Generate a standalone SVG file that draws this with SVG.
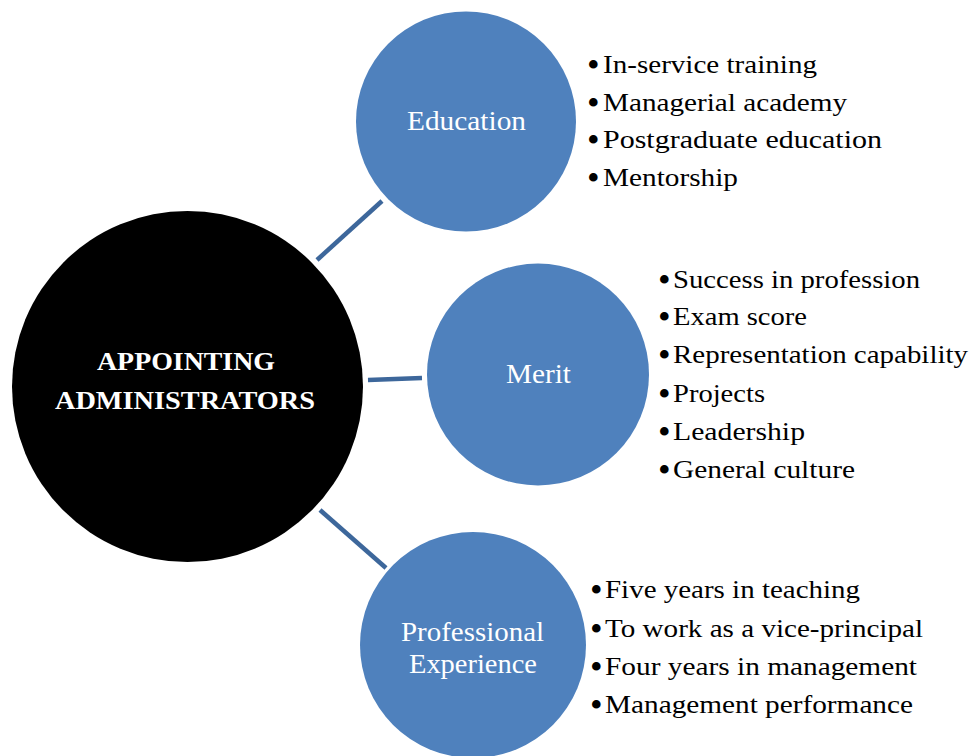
<svg xmlns="http://www.w3.org/2000/svg" width="975" height="756" viewBox="0 0 975 756">
  <style>
    .hub { fill: #000000; }
    .branch { fill: #4f81bd; }
    .link { stroke: #3d679b; stroke-width: 4.5; fill: none; }
    .title { font-family: "Liberation Serif", "DejaVu Serif", serif; font-size: 26px; font-weight: bold; fill: #ffffff; }
    .label { font-family: "Liberation Serif", "DejaVu Serif", serif; font-size: 27px; fill: #ffffff; }
    .item { font-family: "Liberation Serif", "DejaVu Serif", serif; font-size: 26px; fill: #000000; }
    .dot { font-family: "Liberation Serif", "DejaVu Serif", serif; font-size: 36px; fill: #000000; }
  </style>
  <rect width="975" height="756" fill="#ffffff"/>

  <g id="connectors">
    <line class="link" x1="317" y1="260" x2="382" y2="201"/>
    <line class="link" x1="368" y1="380" x2="422" y2="378"/>
    <line class="link" x1="320" y1="510" x2="386" y2="568"/>
  </g>

  <g id="hub">
    <circle class="hub" cx="187.5" cy="386.5" r="175.5"/>
    <text class="title" x="97" y="370" textLength="178" lengthAdjust="spacingAndGlyphs">APPOINTING</text>
    <text class="title" x="55" y="409" textLength="260" lengthAdjust="spacingAndGlyphs">ADMINISTRATORS</text>
  </g>

  <g id="education">
    <circle class="branch" cx="466" cy="121.5" r="110"/>
    <text class="label" x="407" y="130" textLength="119" lengthAdjust="spacingAndGlyphs">Education</text>
  </g>

  <g id="merit">
    <circle class="branch" cx="538" cy="374.5" r="111"/>
    <text class="label" x="506" y="383" textLength="65" lengthAdjust="spacingAndGlyphs">Merit</text>
  </g>

  <g id="professional-experience">
    <circle class="branch" cx="473" cy="645" r="113"/>
    <text class="label" x="401" y="641" textLength="143" lengthAdjust="spacingAndGlyphs">Professional</text>
    <text class="label" x="409" y="673" textLength="128" lengthAdjust="spacingAndGlyphs">Experience</text>
  </g>

  <g id="education-items">
    <text class="dot" x="587" y="77">•</text>
    <text class="item" x="603" y="73" textLength="214" lengthAdjust="spacingAndGlyphs">In-service training</text>
    <text class="dot" x="587" y="115">•</text>
    <text class="item" x="603" y="111" textLength="244" lengthAdjust="spacingAndGlyphs">Managerial academy</text>
    <text class="dot" x="587" y="152">•</text>
    <text class="item" x="603" y="148" textLength="279" lengthAdjust="spacingAndGlyphs">Postgraduate education</text>
    <text class="dot" x="587" y="190">•</text>
    <text class="item" x="603" y="186" textLength="135" lengthAdjust="spacingAndGlyphs">Mentorship</text>
  </g>

  <g id="merit-items">
    <text class="dot" x="658" y="292">•</text>
    <text class="item" x="673" y="288" textLength="247" lengthAdjust="spacingAndGlyphs">Success in profession</text>
    <text class="dot" x="658" y="329">•</text>
    <text class="item" x="673" y="325" textLength="134" lengthAdjust="spacingAndGlyphs">Exam score</text>
    <text class="dot" x="658" y="367">•</text>
    <text class="item" x="673" y="363" textLength="295" lengthAdjust="spacingAndGlyphs">Representation capability</text>
    <text class="dot" x="658" y="406">•</text>
    <text class="item" x="673" y="402" textLength="92" lengthAdjust="spacingAndGlyphs">Projects</text>
    <text class="dot" x="658" y="444">•</text>
    <text class="item" x="673" y="440" textLength="132" lengthAdjust="spacingAndGlyphs">Leadership</text>
    <text class="dot" x="658" y="482">•</text>
    <text class="item" x="673" y="478" textLength="182" lengthAdjust="spacingAndGlyphs">General culture</text>
  </g>

  <g id="experience-items">
    <text class="dot" x="590" y="602">•</text>
    <text class="item" x="605" y="598" textLength="255" lengthAdjust="spacingAndGlyphs">Five years in teaching</text>
    <text class="dot" x="590" y="641">•</text>
    <text class="item" x="605" y="637" textLength="318" lengthAdjust="spacingAndGlyphs">To work as a vice-principal</text>
    <text class="dot" x="590" y="679">•</text>
    <text class="item" x="605" y="675" textLength="312" lengthAdjust="spacingAndGlyphs">Four years in management</text>
    <text class="dot" x="590" y="717">•</text>
    <text class="item" x="605" y="713" textLength="308" lengthAdjust="spacingAndGlyphs">Management performance</text>
  </g>
</svg>
